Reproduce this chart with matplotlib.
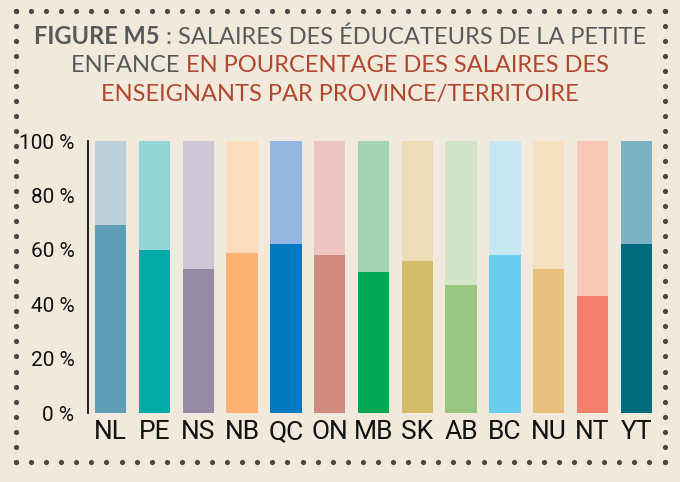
import matplotlib
matplotlib.use("Agg")
import matplotlib.pyplot as plt
from matplotlib import font_manager as fm
import numpy as np

provinces = ["NL", "PE", "NS", "NB", "QC", "ON", "MB", "SK", "AB", "BC", "NU", "NT", "YT"]
values = [69, 60, 53, 59, 62, 58, 52, 56, 47, 58, 53, 43, 62]
dark_colors = ["#5f9db6", "#00aaa8", "#958aa6", "#fdb172", "#0679c3", "#d08a7e", "#00a651",
               "#d4bd68", "#98c683", "#6bcdee", "#e8c07c", "#f47f6a", "#006a7f"]
light_colors = ["#bcd0dc", "#94d5d5", "#cdc7d6", "#fddcbf", "#93b7e2", "#ecc6bf", "#a3d5b1",
                "#ecdcb8", "#d3e5c8", "#c6e8f5", "#f5e0c0", "#fbc6b5", "#7bb3c2"]
yticks = [0, 20, 40, 60, 80, 100]
ytick_labels = ["0 %", "20 %", "40 %", "60 %", "80 %", "100 %"]

BG = "#f1eadc"
GRAY = "#58595b"
RED = "#b2472f"
DOT = "#4d4843"

avail = {f.name for f in fm.fontManager.ttflist}
title_font = "Lato" if "Lato" in avail else "DejaVu Sans"
tick_font = "Roboto" if "Roboto" in avail else "DejaVu Sans"

W, H = 680, 482
fig = plt.figure(figsize=(W / 100, H / 100), dpi=100, facecolor=BG)

# axes
x0, x1 = 88.3, 660
ytop, ybot = 141, 413.3
ax = fig.add_axes([x0 / W, (H - ybot) / H, (x1 - x0) / W, (ybot - ytop) / H])
ax.set_facecolor(BG)
pos = np.arange(len(provinces))
first_c, step = 110.7, 43.8
ax.set_xlim(-(first_c - x0) / step, (x1 - first_c) / step)
ax.set_ylim(0, 100)
ax.bar(pos, [100] * len(pos), width=0.72, color=light_colors, zorder=2)
ax.bar(pos, values, width=0.72, color=dark_colors, zorder=3)
for s in ["top", "right", "bottom"]:
    ax.spines[s].set_visible(False)
ax.spines["left"].set_color("#111111")
ax.spines["left"].set_linewidth(1.3)
ax.set_yticks(yticks)
ax.set_yticklabels(ytick_labels, fontsize=15, family=tick_font, color="#111111")
ax.set_xticks(pos)
ax.set_xticklabels(provinces, fontsize=19, family=tick_font, color="#111111")
ax.tick_params(axis="y", length=0, pad=10)
ax.tick_params(axis="x", length=0, pad=5)

# dotted border
ov = fig.add_axes([0, 0, 1, 1], facecolor="none", zorder=-1)
ov.set_xlim(0, W)
ov.set_ylim(H, 0)
ov.axis("off")
bx0, bx1, by0, by1 = 16, 664.5, 10.7, 461.7
nx = int(round((bx1 - bx0) / 15))
ny = int(round((by1 - by0) / 15))
xs = np.linspace(bx0, bx1, nx + 1)
ys = np.linspace(by0, by1, ny + 1)
ov.scatter(xs, [by0] * len(xs), s=14, color=DOT, lw=0)
ov.scatter(xs, [by1] * len(xs), s=14, color=DOT, lw=0)
ov.scatter([bx0] * len(ys), ys, s=14, color=DOT, lw=0)
ov.scatter([bx1] * len(ys), ys, s=14, color=DOT, lw=0)

# title with mixed styles
lines = [
    [("FIGURE M5", GRAY, "bold"), (" : SALAIRES DES ÉDUCATEURS DE LA PETITE", GRAY, "normal")],
    [("ENFANCE ", GRAY, "normal"), ("EN POURCENTAGE DES SALAIRES DES", RED, "normal")],
    [("ENSEIGNANTS PAR PROVINCE/TERRITOIRE", RED, "normal")],
]
line_y = [35, 64, 93]
fs = 17
renderer = fig.canvas.get_renderer()
for parts, yc in zip(lines, line_y):
    texts = []
    widths = []
    for s, c, w in parts:
        t = fig.text(0, 1 - yc / H, s, color=c, fontsize=fs, family=title_font, weight=w,
                     va="center_baseline", ha="left")
        texts.append(t)
        widths.append(t.get_window_extent(renderer).width)
    total = sum(widths)
    x = W / 2 - total / 2
    for t, w in zip(texts, widths):
        t.set_x(x / W)
        x += w

fig.savefig("out.png", dpi=100, facecolor=BG)
